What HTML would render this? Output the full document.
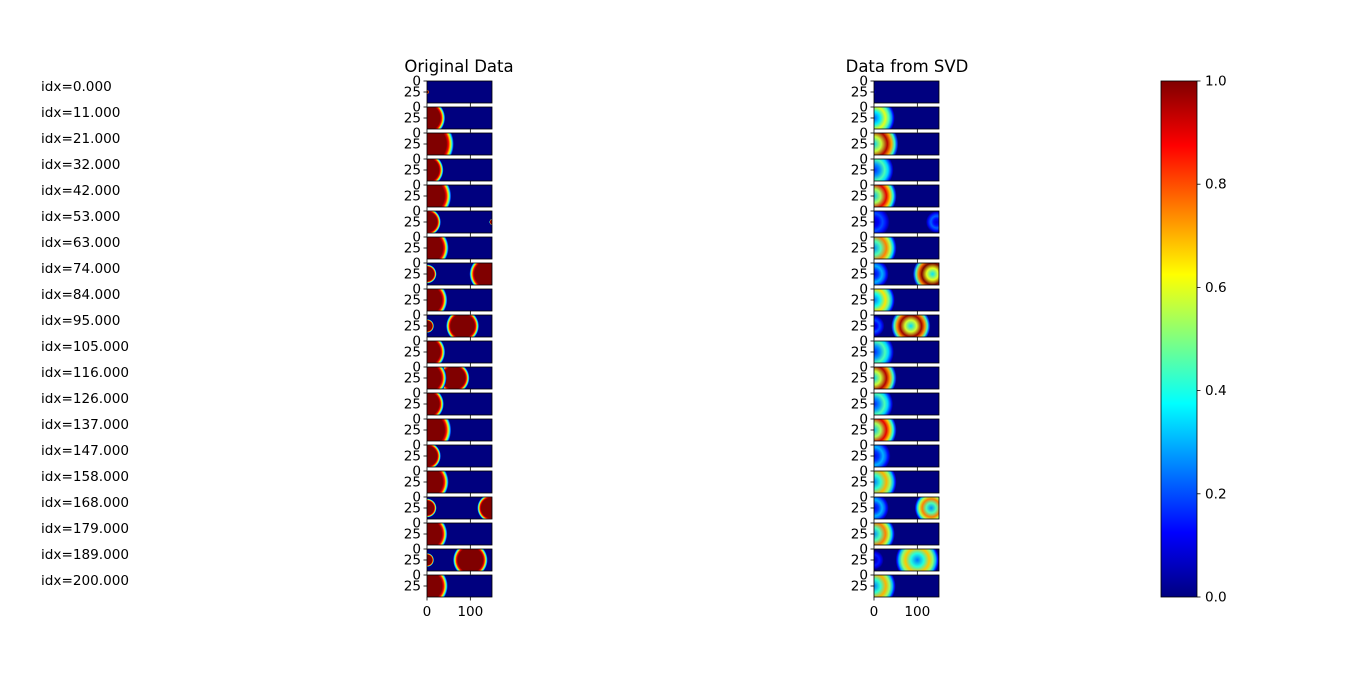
<!DOCTYPE html>
<html><head><meta charset="utf-8">
<style>
body{margin:0;background:#fff;}
svg text{font-family:"DejaVu Sans","Liberation Sans",sans-serif;font-size:13.6px;fill:#000;}
</style></head>
<body>
<svg id="fig" width="1366" height="671" xmlns="http://www.w3.org/2000/svg">
<defs id="defs"></defs>
<g id="root"></g>
</svg>
<script>
// ---- data ----
const idxLabels=[0,11,21,32,42,53,63,74,84,95,105,116,126,137,147,158,168,179,189,200];
const origLeftR=[5,42,62,38,56,32,50,22,47,16,42,45,39,56,32,50,22,47,16,48];
const origBlob2=[null,null,null,null,null,[152,8],null,[140,42],null,[82,38],null,[62,36],null,null,null,null,[148,32],null,[100,40],null];
const svdLeftR=[5,48,56,45,52,36,52,34,48,24,46,52,44,52,38,52,34,48,22,50];
const svdPeak=[0.05,0.6,0.95,0.45,0.9,0.2,0.75,0.3,0.65,0.2,0.45,0.95,0.45,0.9,0.3,0.7,0.3,0.75,0.15,0.7];
const svdBlob2=[null,null,null,null,null,[145,25,0.22],null,[135,45,1.0],null,[85,45,0.97],null,null,null,null,null,null,[132,38,0.75],null,[100,50,0.68],null];
const cbTicks=[0.0,0.2,0.4,0.6,0.8,1.0];

// ---- helpers ----
const NS="http://www.w3.org/2000/svg";
const root=document.getElementById('root'),defs=document.getElementById('defs');
function el(t,a,p){const e=document.createElementNS(NS,t);for(const k in a)e.setAttribute(k,a[k]);(p||root).appendChild(e);return e;}
function jet(v){v=Math.max(0,Math.min(1,v));
 const r=Math.min(4*v-1.5,-4*v+4.5),g=Math.min(4*v-0.5,-4*v+3.5),b=Math.min(4*v+0.5,-4*v+2.5);
 const c=x=>Math.round(255*Math.max(0,Math.min(1,x)));return `rgb(${c(r)},${c(g)},${c(b)})`;}
const PW=65,PH=22,PITCH=26,Y0=81;
const cols=[{x0:427,title:'Original Data',tx:459},{x0:874,title:'Data from SVD',tx:907}];
let gid=0;
function sx(x0,x){return x0+x/150*PW;}
function sy(y0,y){return y0+y/50*PH;}
function blob(g,x0,y0,cx,r,svd,peak){
 const id='g'+(gid++);
 const gr=el('radialGradient',{id:id,gradientUnits:'userSpaceOnUse',cx:sx(x0,cx),cy:sy(y0,25),r:r/150*PW},defs);
 const stops=!svd?[[0,1],[0.72,1],[0.8,0.88],[0.87,0.65],[0.93,0.4],[0.97,0.2],[1,0]]
   :[[0,peak*0.35],[0.3,peak*0.6],[0.55,peak],[0.72,peak*0.75],[0.85,peak*0.45],[0.94,peak*0.2],[1,0]];
 stops.forEach(s=>el('stop',{offset:s[0],'stop-color':jet(s[1])},gr));
 const c=el('circle',{cx:sx(x0,cx),cy:sy(y0,25),r:r/150*PW,fill:'url(#'+id+')'},g);
 
 
}
// ---- draw ----
cols.forEach((col,ci)=>{
 const t=el('text',{x:col.tx,y:72,'text-anchor':'middle',style:'font-size:16.5px'});t.textContent=col.title;
 
 idxLabels.forEach((lab,i)=>{
  const y0=Y0+i*PITCH;
  const g=el('g',{});
  
  
  const cid='c'+ci+'_'+i;
  const cp=el('clipPath',{id:cid},defs);el('rect',{x:col.x0,y:y0,width:PW,height:PH},cp);
  const inner=el('g',{'clip-path':'url(#'+cid+')'},g);
  el('rect',{x:col.x0,y:y0,width:PW,height:PH,fill:'#00007f'},inner);
  if(ci===0){
   if(origBlob2[i])blob(inner,col.x0,y0,origBlob2[i][0],origBlob2[i][1],false);
   blob(inner,col.x0,y0,0,origLeftR[i],false);
  }else{
   if(svdBlob2[i])blob(inner,col.x0,y0,svdBlob2[i][0],svdBlob2[i][1],true,svdBlob2[i][2]);
   blob(inner,col.x0,y0,0,svdLeftR[i],true,svdPeak[i]);
  }
  el('rect',{x:col.x0,y:y0,width:PW,height:PH,fill:'none',stroke:'#000','stroke-width':0.8},g);
  [[0,'0'],[25,'25']].forEach(tk=>{
   const yy=sy(y0,tk[0]);
   el('line',{x1:col.x0-3.5,x2:col.x0,y1:yy,y2:yy,stroke:'#000','stroke-width':0.8},g);
   const tx=el('text',{x:col.x0-6,y:yy+4.5,'text-anchor':'end'},g);tx.textContent=tk[1];
  });
  el('line',{x1:col.x0,x2:col.x0,y1:y0+PH,y2:y0+PH+3.5,stroke:'#000','stroke-width':0.8},g);
  el('line',{x1:sx(col.x0,100),x2:sx(col.x0,100),y1:y0+PH,y2:y0+PH+3.5,stroke:'#000','stroke-width':0.8},g);
  if(ci===0){const l=el('text',{x:41,y:y0+10});l.textContent='idx='+lab.toFixed(3);
   }
 });
 const by=Y0+19*PITCH+PH;
 [0,100].forEach(v=>{const t=el('text',{x:sx(col.x0,v),y:by+19,'text-anchor':'middle'});t.textContent=v;
  });
});
const cbx=1161,cbw=36,cbt=81,cbb=597;
const lg=el('linearGradient',{id:'cbg',x1:0,y1:1,x2:0,y2:0},defs);
for(let k=0;k<=16;k++)el('stop',{offset:k/16,'stop-color':jet(k/16)},lg);
const cb=el('rect',{x:cbx,y:cbt,width:cbw,height:cbb-cbt,fill:'url(#cbg)',stroke:'#000','stroke-width':0.8});

cbTicks.forEach(v=>{const y=cbb-v*(cbb-cbt);
 el('line',{x1:cbx+cbw,x2:cbx+cbw+3.5,y1:y,y2:y,stroke:'#000','stroke-width':0.8});
 const t=el('text',{x:cbx+cbw+8,y:y+4.5});t.textContent=v.toFixed(1);
 });
</script>
</body></html>
